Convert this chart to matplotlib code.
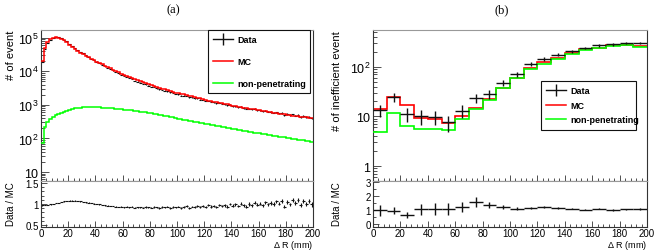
import numpy as np
import matplotlib
matplotlib.use("Agg")
import matplotlib.pyplot as plt
from matplotlib.lines import Line2D
from matplotlib.ticker import FixedLocator, FuncFormatter, MultipleLocator, LogLocator, NullFormatter

plt.rcParams["font.family"] = ["Liberation Sans", "DejaVu Sans"]
plt.rcParams["mathtext.fontset"] = "custom"
plt.rcParams["mathtext.rm"] = "Liberation Sans"

# ---------------- (a) fine binning, 2 mm bins over 0-200 mm
edges_a = np.arange(0, 201, 2)

mc_a = [20000, 47900, 72400, 89100, 97700, 102300, 100000, 93300, 83200, 72400,
        61700, 52500, 45700, 40700, 36300, 32400, 28800, 26300, 23400, 21400,
        19500, 17800, 16200, 14800, 13500, 12300, 11200, 10200, 9330, 8510,
        7940, 7240, 6760, 6310, 5750, 5370, 5010, 4680, 4370, 4070,
        3800, 3630, 3390, 3240, 3020, 2880, 2690, 2570, 2400, 2290,
        2190, 2090, 2040, 1950, 1860, 1780, 1700, 1620, 1550, 1480,
        1410, 1350, 1320, 1260, 1200, 1175, 1120, 1070, 1050, 1000,
        955, 933, 891, 871, 832, 813, 776, 759, 741, 708,
        692, 661, 646, 631, 603, 589, 575, 550, 537, 525,
        513, 501, 479, 468, 457, 447, 437, 427, 407, 398]

nonpen_a = [71, 224, 316, 380, 437, 490, 537, 589, 631, 676,
            724, 759, 794, 813, 832, 851, 845, 860, 848, 855,
            850, 842, 832, 835, 813, 818, 794, 776, 765, 741,
            724, 712, 692, 680, 661, 650, 631, 603, 595, 575,
            562, 550, 537, 513, 505, 479, 462, 447, 427, 412,
            389, 385, 363, 355, 339, 336, 316, 309, 298, 288,
            275, 272, 257, 248, 240, 229, 226, 214, 209, 203,
            195, 188, 182, 176, 170, 166, 160, 155, 148, 147,
            141, 135, 134, 129, 123, 122, 117, 112, 111, 107,
            104, 100, 99, 95, 92, 91, 87, 84, 83, 81]

ratio_a = [0.97, 0.97, 0.98, 0.99, 1.00, 1.02, 1.03, 1.05, 1.06, 1.07,
           1.08, 1.08, 1.08, 1.07, 1.06, 1.05, 1.04, 1.03, 1.02, 1.01,
           1.00, 0.99, 0.98, 0.97, 0.96, 0.95, 0.95, 0.94, 0.93, 0.93,
           0.92, 0.93, 0.92, 0.93, 0.91, 0.92, 0.92, 0.91, 0.93, 0.92,
           0.91, 0.93, 0.92, 0.90, 0.93, 0.92, 0.94, 0.91, 0.93, 0.92,
           0.94, 0.91, 0.93, 0.95, 0.90, 0.94, 0.93, 0.96, 0.92, 0.95,
           0.93, 0.97, 0.94, 0.96, 0.93, 0.98, 0.95, 0.97, 0.94, 1.00,
           0.96, 0.99, 0.95, 1.01, 0.97, 0.94, 1.00, 0.97, 1.03, 0.98,
           1.01, 0.97, 1.04, 0.99, 1.02, 1.00, 1.06, 1.01, 1.07, 0.94,
           1.05, 0.99, 1.09, 1.02, 1.10, 0.97, 1.08, 1.01, 1.07, 0.99]

# ---------------- (b) coarse binning, 10 mm bins
edges_b = np.arange(0, 201, 10)
data_b = [13.5, 24.5, 11.2, 10.0, 9.8, 7.6, 13.0, 23.5, 28.0, 48.0,
          71.0, 115.0, 145.0, 175.0, 208.0, 240.0, 270.0, 283.0, 300.0, 300.0]
mc_b = [14.0, 24.5, 17.0, 9.3, 8.9, 7.4, 10.0, 14.8, 22.5, 37.0,
        60.0, 94.0, 124.0, 150.0, 190.0, 224.0, 242.0, 270.0, 270.0, 257.0]
nonpen_b = [4.9, 11.5, 6.3, 5.7, 5.7, 5.4, 8.9, 14.0, 21.0, 37.0,
            59.0, 91.0, 115.0, 145.0, 183.0, 213.0, 240.0, 262.0, 270.0, 250.0]
ratio_b = [0.99, 0.94, 0.63, 1.04, 1.08, 1.09, 1.20, 1.58, 1.34, 1.23,
           1.08, 1.15, 1.22, 1.11, 1.10, 1.03, 1.10, 1.01, 1.05, 1.08]
ratio_b_err = [0.38, 0.25, 0.2, 0.38, 0.4, 0.42, 0.35, 0.35, 0.22, 0.15,
               0.1, 0.08, 0.08, 0.07, 0.06, 0.06, 0.06, 0.05, 0.05, 0.05]

mc_a = np.array(mc_a, float)
ratio_a = np.array(ratio_a)
data_a = mc_a * ratio_a
cen_a = 0.5 * (edges_a[1:] + edges_a[:-1])
cen_b = 0.5 * (edges_b[1:] + edges_b[:-1])
data_b = np.array(data_b)

W, H = 654, 251
fig = plt.figure(figsize=(W / 100, H / 100), dpi=100)


def box(x0, y0, x1, y1):
    return [x0 / W, 1 - y1 / H, (x1 - x0) / W, (y1 - y0) / H]


def logfmt(v, pos):
    if v <= 1.01:
        return "1"
    if v < 11:
        return "10"
    return r"$10^{%d}$" % round(np.log10(v))


def style(ax):
    for s in ["left", "bottom", "right"]:
        ax.spines[s].set_color("#333333")
        ax.spines[s].set_linewidth(0.8)
    ax.spines["top"].set_color("#999999")
    ax.tick_params(which="both", direction="in", color="#333333", width=0.6)
    ax.tick_params(which="major", length=4)
    ax.tick_params(which="minor", length=2)
    ax.tick_params(top=False, right=False)


GREEN = "#00ff00"
RED = "#ff0000"

panels = [
    dict(x0=41, x1=313, main_ylim=(5.4, 1.7e5), r_ylim=(0.45, 1.55), ylab="# of event",
         title="(a)", tx=173, lab_px=16),
    dict(x0=373, x1=647, main_ylim=(0.5, 550), r_ylim=(-0.2, 3.05), ylab="# of inefficient event",
         title="(b)", tx=502, lab_px=342),
]

for i, p in enumerate(panels):
    ax = fig.add_axes(box(p["x0"], 31, p["x1"], 182))
    rx = fig.add_axes(box(p["x0"], 182, p["x1"], 228))
    wpx = p["x1"] - p["x0"]
    for a in (ax, rx):
        style(a)
        a.set_xlim(0, 200)
        a.xaxis.set_major_locator(MultipleLocator(20))
        a.xaxis.set_minor_locator(MultipleLocator(4))
    ax.set_yscale("log")
    ax.set_ylim(*p["main_ylim"])
    ax.yaxis.set_major_locator(LogLocator(base=10, numticks=10))
    ax.yaxis.set_minor_locator(LogLocator(base=10, subs=np.arange(2, 10), numticks=10))
    ax.yaxis.set_major_formatter(FuncFormatter(logfmt))
    ax.yaxis.set_minor_formatter(NullFormatter())
    ax.tick_params(axis="y", which="major", labelsize=9, pad=2, length=6)
    ax.tick_params(axis="y", which="minor", length=3)
    ax.tick_params(axis="x", labelbottom=False)
    rx.set_ylim(*p["r_ylim"])
    rx.tick_params(axis="y", labelsize=7, pad=1.5)
    rx.tick_params(axis="x", labelsize=7, pad=1)

    if i == 0:
        ax.errorbar(cen_a, data_a, xerr=1, yerr=np.sqrt(data_a), fmt="none",
                    ecolor="#111111", elinewidth=0.8, zorder=2)
        ax.stairs(mc_a, edges_a, color=RED, lw=1.1, zorder=3, baseline=None)
        ax.stairs(nonpen_a, edges_a, color=GREEN, lw=1.1, zorder=3, baseline=None)
        rx.errorbar(cen_a, ratio_a, xerr=1, yerr=ratio_a / np.sqrt(data_a), fmt="none",
                    ecolor="#111111", elinewidth=0.8)
        rx.yaxis.set_major_locator(FixedLocator([0.5, 1.0, 1.5]))
        rx.yaxis.set_minor_locator(MultipleLocator(0.1))
        rx.yaxis.set_major_formatter(FuncFormatter(lambda v, pos: "%g" % v))
        leg_box = (0.614, 0.563, 0.375, 0.437)
        lspace = 1.4
    else:
        ax.stairs(mc_b, edges_b, color=RED, lw=1.2, zorder=2, baseline=None)
        ax.stairs(nonpen_b, edges_b, color=GREEN, lw=1.2, zorder=3, baseline=None)
        ax.errorbar(cen_b, data_b, xerr=5, yerr=np.sqrt(data_b), fmt="none",
                    ecolor="#111111", elinewidth=1.0, zorder=4)
        rx.errorbar(cen_b, ratio_b, xerr=5, yerr=ratio_b_err, fmt="none",
                    ecolor="#111111", elinewidth=1.0)
        rx.yaxis.set_major_locator(FixedLocator([0, 1, 2, 3]))
        rx.yaxis.set_minor_locator(MultipleLocator(0.5))
        leg_box = (0.613, 0.384, 0.347, 0.278)
        lspace = 0.6

    handles = [Line2D([], [], color="#111111", lw=1.0, marker="|", markersize=9, markeredgewidth=1.0),
               Line2D([], [], color=RED, lw=1.1),
               Line2D([], [], color=GREEN, lw=1.1)]
    leg = ax.legend(handles, ["Data", "MC", "non-penetrating"], loc="upper left",
                    bbox_to_anchor=leg_box, mode="expand", fancybox=False, framealpha=1,
                    edgecolor="#111111", prop=dict(size=6.5, weight="bold"),
                    handlelength=2.2, handletextpad=0.5, labelspacing=lspace,
                    borderpad=0.6, borderaxespad=0)
    leg.get_frame().set_linewidth(0.8)

    lx = -(p["x0"] - p["lab_px"]) / wpx
    ax.set_ylabel(p["ylab"], fontsize=8, loc="top")
    ax.yaxis.set_label_coords(lx, 1.0)
    rx.set_ylabel("Data / MC", fontsize=7, loc="top")
    rx.yaxis.set_label_coords(lx, 1.0)
    rx.set_xlabel(r"$\Delta$ R (mm)", fontsize=6.5, loc="right")
    rx.xaxis.set_label_coords(1.0, -(246 - 228) / 46)
    rx.xaxis.label.set_va("center")

    fig.text(p["tx"] / W, 1 - 10 / H, p["title"], family="Liberation Serif", fontsize=9,
             ha="center", va="center")

fig.savefig("out.png", dpi=100)
